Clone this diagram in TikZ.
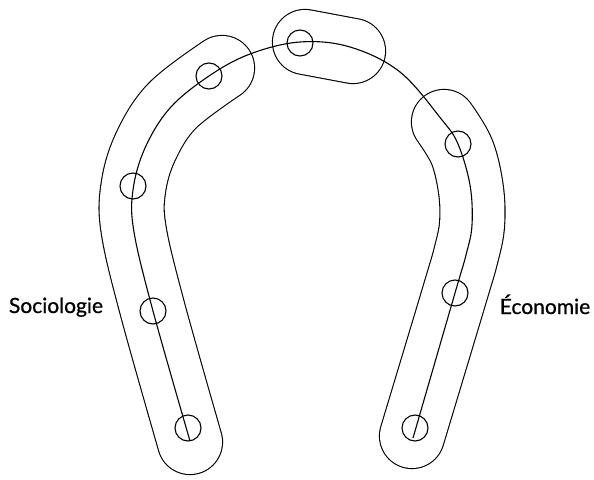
\documentclass[tikz,border=0pt]{standalone}
\usepackage{fontspec}
\setmainfont{Lato}
\newfontfamily\lblfont{Lato}[FakeBold=0.8]
\begin{document}
\begin{tikzpicture}[x=1pt,y=-1pt,
  line width=1.1pt,
  dot/.style={circle,draw,line width=1.1pt,minimum size=26pt,inner sep=0pt},
  group/.style={draw,line width=1.1pt,double,double distance=64pt,line cap=round,line join=round},
  lbl/.style={font=\lblfont\fontsize{21}{24}\selectfont,anchor=base,inner sep=0pt}]
\useasboundingbox (0,0) rectangle (594,479);
% group outlines
\draw[group] plot[smooth,tension=0.6] coordinates {(190,442) (153,311) (134,232) (133,190) (145,148) (172,106) (222,68)};
\draw[group] plot[smooth,tension=0.6] coordinates {(305,42) (353,51)};
\draw[group] plot[smooth,tension=0.6] coordinates {(444,122) (462,152) (471,190) (472,225) (466,255) (455,293) (412,436)};
% horseshoe
\draw plot[smooth,tension=0.6] coordinates {(190,441) (153,311) (134,232) (133,190) (145,148) (170,108) (209,76) (250,54) (300,42) (350,47) (400,72) (442,120) (458,144) (470,185) (472,225) (466,255) (455,293) (413,438)};
% circles
\node[dot] (s1) at (188,428) {};
\node[dot] (s2) at (153,311) {};
\node[dot] (s3) at (133,186) {};
\node[dot] (s4) at (209,76) {};
\node[dot] (t1) at (300,43) {};
\node[dot] (e1) at (458,144) {};
\node[dot] (e2) at (455,293) {};
\node[dot] (e3) at (415,428) {};
% labels
\node[lbl] (soc) at (56,313) {Sociologie};
\node[lbl] (eco) at (545,314) {Économie};
\end{tikzpicture}
\end{document}
